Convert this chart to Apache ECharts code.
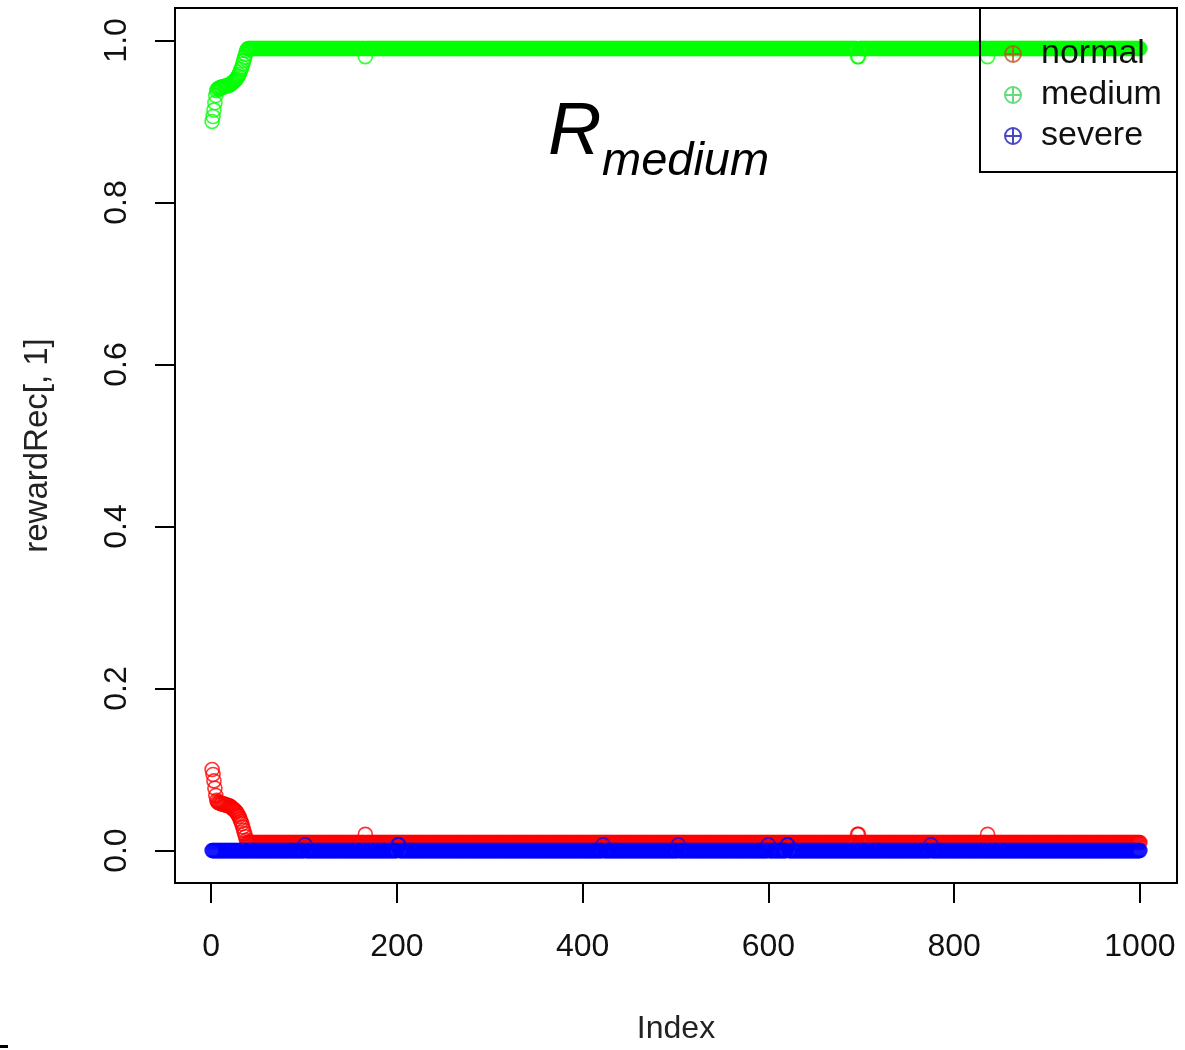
<!DOCTYPE html>
<html>
<head>
<meta charset="utf-8">
<script src="https://cdn.jsdelivr.net/npm/echarts@6/dist/echarts.min.js"></script>
<style>
  html, body { margin: 0; padding: 0; background: #fff; }
  #chart { width: 1185px; height: 1050px; }
</style>
</head>
<body>
<div id="chart"></div>
<script>
// first 40 points (index 1..40)
var normalHead = [0.100, 0.094, 0.086, 0.077, 0.068, 0.062, 0.060, 0.059, 0.059, 0.058,
  0.058, 0.058, 0.057, 0.057, 0.057, 0.056, 0.056, 0.056, 0.055, 0.055,
  0.054, 0.053, 0.052, 0.051, 0.050, 0.049, 0.048, 0.046, 0.044, 0.042,
  0.039, 0.036, 0.033, 0.029, 0.025, 0.021, 0.017, 0.013, 0.011, 0.010]
var mediumHead = [0.900, 0.906, 0.914, 0.923, 0.932, 0.938, 0.940, 0.941, 0.941, 0.942,
  0.942, 0.942, 0.943, 0.943, 0.943, 0.944, 0.944, 0.944, 0.945, 0.945,
  0.946, 0.947, 0.948, 0.949, 0.950, 0.951, 0.952, 0.954, 0.956, 0.958,
  0.961, 0.964, 0.967, 0.971, 0.975, 0.979, 0.983, 0.987, 0.989, 0.990]
var severeHead = []

// rest of the points as [count, value] runs
var normalRuns = [[125, 0.01], [1, 0.02], [529, 0.01], [2, 0.02], [138, 0.01], [1, 0.02], [164, 0.01]]
var mediumRuns = [[125, 0.99], [1, 0.98], [529, 0.99], [2, 0.98], [138, 0.99], [1, 0.98], [164, 0.99]]
var severeRuns = [[100, 0], [1, 0.007], [99, 0], [2, 0.007], [219, 0], [1, 0.007], [80, 0],
  [1, 0.007], [96, 0], [1, 0.007], [19, 0], [2, 0.007], [153, 0], [1, 0.007], [225, 0]]

var seriesNames = ['normal', 'medium', 'severe']
var seriesColors = ['#ff0000', '#00ff00', '#0000ff']
var legendColors = ['#b8561c', '#3fd35a', '#1c1cb4']
var xTicks = [0, 200, 400, 600, 800, 1000]
var yTicks = [0, 0.2, 0.4, 0.6, 0.8, 1.0]

function buildPoints(head, runs) {
  var pts = []
  var idx = 1
  for (var i = 0; i < head.length; i++) {
    pts.push([idx, head[i]])
    idx++
  }
  runs.forEach(function (r) {
    for (var k = 0; k < r[0]; k++) {
      pts.push([idx, r[1]])
      idx++
    }
  })
  return pts
}

var allData = [
  buildPoints(normalHead, normalRuns),
  buildPoints(mediumHead, mediumRuns),
  buildPoints(severeHead, severeRuns)
]

var font = 'Liberation Sans, Arial, sans-serif'
var ringIcon = 'path://M1,7A6,6,0,1,1,13,7A6,6,0,1,1,1,7ZM7,1L7,13M1,7L13,7'

var chart = echarts.init(document.getElementById('chart'))

var series = seriesNames.map(function (name, i) {
  return {
    name: name,
    type: 'scatter',
    data: allData[i],
    symbol: 'circle',
    symbolSize: 14,
    itemStyle: {
      color: 'rgba(0,0,0,0)',
      borderColor: seriesColors[i],
      borderWidth: 1.6
    },
    emphasis: { disabled: true },
    z: 2 + i
  }
})

var option = {
  animation: false,
  backgroundColor: '#fff',
  grid: {
    left: 175,
    top: 8,
    right: 8,
    bottom: 164,
    show: true,
    borderColor: '#000',
    borderWidth: 2,
    backgroundColor: 'transparent'
  },
  xAxis: {
    type: 'value',
    min: -38.96,
    max: 1039.96,
    name: 'Index',
    nameLocation: 'middle',
    nameGap: 130,
    nameTextStyle: { fontSize: 32, color: '#222', fontFamily: font, verticalAlign: 'top' },
    axisLine: { show: false, onZero: false },
    splitLine: { show: false },
    axisTick: {
      show: true, length: 20, customValues: xTicks,
      lineStyle: { color: '#000', width: 2 }
    },
    axisLabel: {
      customValues: xTicks, margin: 48,
      fontSize: 32, color: '#111', fontFamily: font,
      formatter: function (v) { return String(v) }
    }
  },
  yAxis: {
    type: 'value',
    min: -0.04,
    max: 1.04,
    name: 'rewardRec[, 1]',
    nameLocation: 'middle',
    nameGap: 121,
    nameTextStyle: { fontSize: 33, color: '#222', fontFamily: font },
    axisLine: { show: false, onZero: false },
    splitLine: { show: false },
    axisTick: {
      show: true, length: 20, customValues: yTicks,
      lineStyle: { color: '#000', width: 2 }
    },
    axisLabel: {
      customValues: yTicks, rotate: 90, margin: 42,
      fontSize: 32, color: '#111', fontFamily: font,
      formatter: function (v) { return v.toFixed(1) }
    }
  },
  legend: {
    orient: 'vertical',
    left: 1004,
    top: 37,
    padding: 0,
    itemWidth: 48,
    itemHeight: 16,
    itemGap: 7,
    icon: ringIcon,
    selectedMode: false,
    textStyle: { fontSize: 34, lineHeight: 34, color: '#111', fontFamily: font, padding: [0, 0, 0, -1] },
    data: seriesNames.map(function (name, i) {
      return {
        name: name,
        itemStyle: { color: 'rgba(0,0,0,0)', borderColor: legendColors[i], borderWidth: 2 }
      }
    })
  },
  graphic: [
    {
      type: 'rect',
      shape: { x: 980, y: 8, width: 197, height: 164 },
      style: { fill: 'none', stroke: '#000', lineWidth: 2 },
      z: 10
    },
    {
      type: 'text',
      left: 548,
      top: 96,
      style: { text: 'R', fontSize: 74, fontStyle: 'italic', fontFamily: font, fill: '#000' },
      z: 10
    },
    {
      type: 'text',
      left: 602,
      top: 138,
      style: { text: 'medium', fontSize: 47, fontStyle: 'italic', fontFamily: font, fill: '#000' },
      z: 10
    },
    {
      type: 'rect',
      shape: { x: 0, y: 1045, width: 8, height: 3 },
      style: { fill: '#000' }
    }
  ],
  series: series
}

chart.setOption(option)
</script>
</body>
</html>
